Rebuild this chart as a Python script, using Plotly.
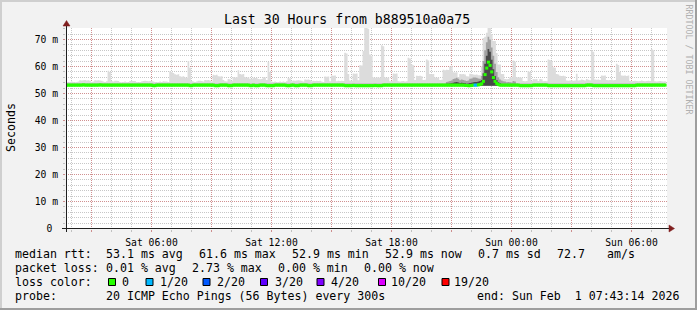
import plotly.graph_objects as go
from datetime import datetime, timedelta

# ---------------- data ----------------
START = datetime(2026, 1, 31, 1, 43, 14)
STEP_MIN = 5

median_ms = [
    53.1, 53.1, 53.1, 53.1, 53.1, 53.1, 53.1, 53.1, 53.1, 53.1, 53.2, 53.1, 53.1, 53.1, 53.1,
    53.1, 53.1, 53.1, 53.1, 53.1, 53.2, 53.1, 53.1, 53.1, 53.1, 53.1, 53.1, 53.1, 53.1, 53.1,
    53.1, 53.1, 53.1, 53.1, 53.1, 53.1, 53.1, 53.1, 53.1, 53.1, 53.1, 53.1, 53.1, 53.1, 53.1,
    53.1, 53.1, 53.1, 53.1, 53.1, 53.1, 53.1, 52.9, 52.9, 53.1, 53.1, 53.1, 53.1, 53.1, 53.1,
    53.1, 53.1, 53.1, 53.1, 53.1, 53.1, 53.1, 53.1, 53.1, 53.1, 53.1, 53.1, 53.1, 53.1, 52.9,
    52.9, 53.1, 53.1, 53.1, 53.1, 53.1, 53.1, 53.1, 53.1, 53.1, 53.1, 53.1, 53.1, 53.1, 52.9,
    52.9, 52.9, 53.1, 53.1, 53.1, 53.1, 53.1, 52.9, 52.9, 52.9, 53.1, 53.1, 53.1, 53.1, 53.1,
    53.1, 53.1, 53.1, 53.1, 53.1, 52.9, 52.9, 53.1, 52.9, 52.9, 52.9, 53.1, 53.1, 53.1, 53.1,
    52.9, 52.9, 52.9, 52.9, 52.9, 53.1, 53.1, 53.1, 53.1, 53.1, 53.1, 53.1, 52.9, 52.9, 52.9,
    53.1, 53.1, 52.9, 52.9, 52.9, 53.1, 53.1, 53.1, 53.1, 53.1, 52.9, 52.9, 52.9, 53.1, 53.1,
    53.1, 53.1, 53.1, 53.1, 53.1, 53.1, 53.1, 53.1, 53.1, 53.1, 53.1, 53.1, 53.1, 53.1, 53.1,
    53.1, 53.1, 52.9, 52.9, 52.9, 52.9, 52.9, 53.0, 52.9, 52.9, 52.9, 52.9, 52.9, 52.9, 52.9,
    52.9, 52.9, 52.9, 52.9, 52.9, 53.0, 52.9, 52.9, 52.9, 52.9, 53.1, 53.1, 53.1, 53.1, 53.1,
    53.1, 53.1, 53.1, 53.1, 53.1, 53.1, 53.1, 53.1, 53.1, 53.1, 53.1, 53.1, 53.1, 53.1, 53.1,
    53.1, 53.1, 53.1, 53.1, 53.1, 53.1, 53.1, 53.1, 53.1, 53.1, 53.1, 53.1, 53.1, 53.1, 53.1,
    53.1, 53.1, 53.1, 53.1, 53.1, 53.1, 53.1, 53.1, 53.1, 53.1, 53.1, 53.1, 53.1, 53.1, 53.0,
    53.0, 52.9, 52.9, 53.0, 53.1, 53.1, 53.1, 53.2, 53.3, 53.6, 54.5, 57.0, 59.4, 61.6, 60.4,
    58.0, 55.9, 54.5, 53.7, 53.3, 53.1, 53.1, 53.1, 53.1, 53.1, 53.1, 53.1, 53.1, 53.1, 53.1,
    53.1, 53.1, 52.9, 52.9, 52.9, 52.9, 52.9, 52.9, 52.9, 52.9, 53.1, 53.1, 53.1, 53.1, 53.1,
    53.1, 53.1, 53.1, 53.1, 52.9, 52.9, 52.9, 52.9, 52.9, 52.9, 52.9, 52.9, 52.9, 52.9, 52.9,
    52.9, 52.9, 52.9, 52.9, 52.9, 52.9, 52.9, 52.9, 52.9, 52.9, 52.9, 52.9, 53.1, 53.1, 53.1,
    53.1, 52.9, 52.9, 52.9, 52.9, 52.9, 52.9, 52.9, 52.9, 52.9, 52.9, 52.9, 52.9, 52.9, 52.9,
    52.9, 52.9, 52.9, 52.9, 52.9, 52.9, 52.9, 52.9, 52.9, 52.9, 52.9, 52.9, 53.1, 53.1, 53.1,
    53.1, 53.1, 53.1, 53.1, 53.1, 53.1, 53.1, 53.1, 53.1, 53.1, 53.1, 53.1, 53.1, 53.1, 53.1,
]

smoke_max_ms = [
    54.3, 54.2, 54.3, 54.4, 54.3, 54.2, 54.3, 54.4, 54.9, 54.8, 54.9, 55.0, 54.8, 54.9, 54.7,
    54.3, 54.4, 54.9, 54.8, 54.9, 54.8, 54.7, 54.4, 54.3, 54.5, 58.4, 58.0, 54.6, 54.4, 54.7,
    54.7, 54.6, 54.3, 54.2, 54.3, 54.4, 54.3, 54.2, 54.6, 54.7, 54.6, 54.6, 54.3, 54.2, 54.3,
    54.4, 54.6, 54.7, 54.6, 54.5, 54.6, 54.7, 54.4, 54.3, 54.2, 54.3, 54.4, 54.3, 54.5, 54.4,
    54.4, 54.3, 58.2, 58.0, 57.6, 57.1, 56.9, 57.1, 56.4, 56.2, 56.4, 55.9, 55.8, 62.0, 59.5,
    54.6, 54.4, 54.3, 54.4, 54.7, 54.7, 54.6, 54.4, 55.0, 54.9, 55.0, 54.8, 54.4, 56.9, 56.8,
    56.9, 56.4, 56.3, 56.4, 55.0, 54.5, 54.4, 55.4, 55.3, 54.6, 56.0, 55.9, 56.0, 58.6, 57.2,
    57.0, 57.2, 56.0, 55.8, 56.0, 55.5, 55.4, 55.8, 55.7, 55.8, 55.4, 55.3, 55.4, 56.0, 55.9,
    55.0, 61.7, 58.0, 54.4, 54.3, 54.4, 54.2, 54.3, 54.4, 54.3, 54.4, 54.3, 54.5, 55.7, 55.6,
    54.5, 54.8, 54.7, 54.8, 54.9, 54.8, 54.7, 54.4, 55.2, 55.1, 55.2, 55.0, 54.5, 54.7, 54.6,
    54.7, 54.6, 54.7, 54.4, 54.3, 56.3, 56.2, 56.3, 54.5, 56.7, 56.6, 56.7, 54.5, 54.7, 54.6,
    54.7, 54.6, 65.1, 64.8, 57.2, 54.8, 54.6, 57.4, 57.3, 57.4, 54.9, 60.5, 60.4, 65.7, 75.0,
    75.0, 74.0, 64.4, 64.0, 55.9, 55.8, 55.9, 56.0, 55.8, 67.9, 67.5, 55.9, 55.8, 55.9, 54.5,
    54.6, 57.4, 57.3, 57.4, 54.5, 54.4, 54.5, 54.6, 54.4, 54.5, 63.2, 63.0, 60.7, 60.5, 55.0,
    56.6, 56.5, 56.6, 56.4, 55.0, 55.1, 62.6, 62.2, 57.2, 57.1, 57.2, 55.9, 55.8, 55.9, 55.0,
    55.1, 58.8, 58.6, 58.8, 58.7, 60.0, 60.3, 57.9, 57.8, 57.9, 56.0, 57.2, 57.1, 57.2, 57.0,
    56.4, 56.3, 57.3, 57.2, 57.0, 56.9, 57.0, 56.8, 56.8, 60.0, 70.6, 71.0, 72.5, 75.0, 75.0,
    72.0, 69.4, 69.4, 65.0, 60.7, 60.7, 57.2, 57.2, 55.4, 55.3, 55.4, 56.0, 55.9, 62.2, 61.8,
    56.0, 55.9, 56.0, 55.8, 54.6, 54.5, 54.6, 58.3, 58.0, 54.6, 55.4, 55.3, 55.4, 54.6, 55.4,
    55.3, 54.5, 54.6, 54.5, 62.6, 62.4, 62.0, 59.7, 59.5, 57.2, 57.0, 56.6, 56.5, 56.6, 56.4,
    54.8, 54.7, 54.8, 54.9, 54.7, 54.8, 57.3, 54.8, 54.9, 55.2, 55.0, 54.8, 55.4, 55.1, 54.9,
    65.9, 65.5, 55.2, 55.1, 55.2, 55.0, 56.7, 56.6, 56.7, 55.0, 54.9, 55.0, 55.2, 54.9, 55.0,
    61.0, 60.6, 58.0, 56.7, 56.6, 56.7, 56.5, 56.7, 54.6, 54.5, 54.6, 54.7, 54.6, 54.5, 54.6,
    54.8, 54.6, 54.5, 54.6, 54.7, 54.6, 66.5, 66.0, 54.5, 54.4, 54.5, 54.6, 54.5, 54.4, 54.5,
]

SMOKE_FLOOR_MS = 52.9
SMOKE_CORE_TOP_MS = 53.9

PEAK_FIRST_STEP = 228
peak_mid_ms = [
    54.3, 54.4, 54.6, 54.8, 55.4, 55.6, 55.8, 55.5, 54.9, 55.2, 55.0, 54.8,
    54.6, 54.8, 55.5, 55.6, 55.9, 55.9, 55.8, 55.6, 55.5, 56.5,
    62.0, 66.0, 69.0, 71.0, 70.0, 67.0, 64.0, 61.0, 58.0, 56.0,
    55.2, 54.8, 54.5, 54.4, 54.2, 54.3, 54.2, 54.1, 54.6, 54.4,
]
peak_dark_ms = [
    53.6, 53.6, 53.7, 53.8, 54.0, 54.2, 54.3, 54.1, 53.9, 54.0, 53.9, 53.8,
    53.6, 53.7, 53.9, 54.0, 54.2, 54.3, 54.3, 54.4, 54.6, 55.0,
    57.5, 61.0, 64.0, 66.5, 65.5, 62.5, 59.0, 56.5, 55.0, 54.2,
    53.8, 53.5, 53.4, 53.3, 53.3, 53.3, 53.3, 53.3, 53.4, 53.3,
]

loss_count = [
    0, 0, 0, 0, 0, 0, 0, 0, 0, 0, 0, 0, 0, 0, 0, 0, 0, 0, 0, 0, 0, 0, 0, 0, 0, 0, 0, 0, 0, 0,
    0, 0, 0, 0, 0, 0, 0, 0, 0, 0, 0, 0, 0, 0, 0, 0, 0, 0, 0, 0, 0, 0, 0, 0, 0, 0, 0, 0, 0, 0,
    0, 0, 0, 0, 0, 0, 0, 0, 0, 0, 0, 0, 0, 0, 0, 0, 0, 0, 0, 0, 0, 0, 0, 0, 0, 0, 0, 0, 0, 0,
    0, 0, 0, 0, 0, 0, 0, 0, 0, 0, 0, 0, 0, 0, 0, 0, 0, 0, 0, 0, 0, 0, 0, 0, 0, 0, 0, 0, 0, 0,
    0, 0, 0, 0, 0, 0, 0, 0, 0, 0, 0, 0, 0, 0, 0, 0, 0, 0, 0, 0, 0, 0, 0, 0, 0, 0, 0, 0, 0, 0,
    0, 0, 0, 0, 0, 0, 0, 0, 0, 0, 0, 0, 0, 0, 0, 0, 0, 0, 0, 0, 0, 0, 0, 0, 0, 0, 0, 0, 0, 0,
    0, 0, 0, 0, 0, 0, 0, 0, 0, 0, 0, 0, 0, 0, 0, 0, 0, 0, 0, 0, 0, 0, 0, 0, 0, 0, 0, 0, 0, 0,
    0, 0, 0, 0, 0, 0, 0, 0, 0, 0, 0, 0, 0, 0, 0, 0, 0, 0, 0, 0, 0, 0, 0, 0, 0, 0, 0, 0, 0, 0,
    0, 0, 0, 0, 0, 1, 1, 0, 0, 0, 0, 0, 0, 0, 0, 0, 0, 0, 0, 0, 0, 0, 0, 0, 0, 0, 0, 0, 0, 0,
    0, 0, 0, 0, 0, 0, 0, 0, 0, 0, 0, 0, 0, 0, 0, 0, 0, 0, 0, 0, 0, 0, 0, 0, 0, 0, 0, 0, 0, 0,
    0, 0, 0, 0, 0, 0, 0, 0, 0, 0, 0, 0, 0, 0, 0, 0, 0, 0, 0, 0, 0, 0, 0, 0, 0, 0, 0, 0, 0, 0,
    0, 0, 0, 0, 0, 0, 0, 0, 0, 0, 0, 0, 0, 0, 0, 0, 0, 0, 0, 0, 0, 0, 0, 0, 0, 0, 0, 0, 0, 0,
]

loss_thresholds = [0, 1, 2, 3, 4, 10, 19]
loss_labels = ["0", "1/20", "2/20", "3/20", "4/20", "10/20", "19/20"]
loss_colors = ["#26ff00", "#00b8ff", "#0059ff", "#5e00ff", "#7e00ff", "#dd00ff", "#ff0000"]

y_tick_vals = [0, 10, 20, 30, 40, 50, 60, 70]
y_tick_text = ["0\u00a0", "10 m", "20 m", "30 m", "40 m", "50 m", "60 m", "70 m"]
Y_RANGE_MS = [-0.185, 74.26]

x_major_times = ["2026-01-31 03:00", "2026-01-31 06:00", "2026-01-31 09:00", "2026-01-31 12:00",
                 "2026-01-31 15:00", "2026-01-31 18:00", "2026-01-31 21:00", "2026-02-01 00:00",
                 "2026-02-01 03:00", "2026-02-01 06:00"]
x_major_text = ["", "Sat 06:00", "", "Sat 12:00", "", "Sat 18:00", "", "Sun 00:00", "", "Sun 06:00"]

title_text = "Last 30 Hours from b889510a0a75"
rtt_stats = ["53.1 ms avg", "61.6 ms max", "52.9 ms min", "52.9 ms now", "0.7 ms sd", "72.7", "am/s"]
loss_stats = ["0.01 % avg", "2.73 % max", "0.00 % min", "0.00 % now"]
probe_text = "20 ICMP Echo Pings (56 Bytes) every 300s"
end_text = "end: Sun Feb  1 07:43:14 2026"

# ---------------- styling / geometry ----------------
W, H = 697, 310
PL, PT, PW, PH = 66, 28, 601, 201
FONT = "DejaVu Sans Mono"
BACK = "#f2f2f2"
SHADE_A = "#cfcfcf"
SHADE_B = "#9e9e9e"
GRID = "rgba(143,143,143,0.5)"
MGRID = "rgba(222,79,79,0.45)"
ARROW = "#801f1f"
AXIS = "#1f1f1f"
X_PIXEL_ALIGN = timedelta(seconds=16)   # puts hour gridlines on pixel centres


def xp(px):
    return (px - PL) / PW


def yp(py):
    return (PT + PH - py) / PH


n = len(median_ms)
step = timedelta(minutes=STEP_MIN)
edges = [START + i * step for i in range(n + 1)]
centers = [START + (i + 0.5) * step for i in range(n)]
x_start = START + X_PIXEL_ALIGN
x_range = [x_start, x_start + timedelta(hours=PW / 20.0)]


def loss_color(c):
    col = loss_colors[0]
    for t, cc in zip(loss_thresholds, loss_colors):
        if c >= t:
            col = cc
    return col


fig = go.Figure()


def band(x, lo, hi, color):
    fig.add_trace(go.Scatter(x=x, y=lo, mode="lines", line=dict(width=0, shape="hv"),
                             hoverinfo="skip", showlegend=False))
    fig.add_trace(go.Scatter(x=x, y=hi, mode="lines", line=dict(width=0, shape="hv"),
                             fill="tonexty", fillcolor=color, hoverinfo="skip", showlegend=False))


floor_all = [SMOKE_FLOOR_MS] * (n + 1)
band(edges, floor_all, smoke_max_ms + [smoke_max_ms[-1]], "#dcdcdc")
band(edges, floor_all, [SMOKE_CORE_TOP_MS] * (n + 1), "#c6c6c6")

pk = len(peak_mid_ms)
pedges = edges[PEAK_FIRST_STEP:PEAK_FIRST_STEP + pk + 1]
band(pedges, [SMOKE_FLOOR_MS] * (pk + 1), peak_mid_ms + [peak_mid_ms[-1]], "#a2a2a2")
band(pedges, [SMOKE_FLOOR_MS] * (pk + 1), peak_dark_ms + [peak_dark_ms[-1]], "#484848")

fig.add_trace(go.Scatter(
    x=centers, y=median_ms, mode="markers",
    marker=dict(symbol="line-ew", size=2.2,
                line=dict(width=3, color=[loss_color(c) for c in loss_count])),
    hoverinfo="skip", showlegend=False))

grid_dash = "1px,1px"
fig.update_xaxes(
    type="date", range=x_range, showline=False, zeroline=False,
    tickmode="array", tickvals=x_major_times, ticktext=x_major_text,
    showgrid=True, gridcolor=MGRID, gridwidth=1, griddash=grid_dash,
    ticks="outside", ticklen=2, tickcolor=MGRID,
    tickfont=dict(family=FONT, size=9.7, color="#000000"),
    ticklabelstandoff=2,
    minor=dict(tick0="2026-01-31 00:00", dtick=3600000, showgrid=True, gridcolor=GRID,
               griddash=grid_dash, gridwidth=1, ticks="outside", ticklen=2, tickcolor=GRID),
    fixedrange=True,
)
fig.update_yaxes(
    range=Y_RANGE_MS, showline=False, zeroline=False,
    tickmode="array", tickvals=y_tick_vals, ticktext=y_tick_text,
    showgrid=True, gridcolor=MGRID, gridwidth=1, griddash=grid_dash,
    ticks="outside", ticklen=2, tickcolor=MGRID,
    tickfont=dict(family=FONT, size=9.7, color="#000000"),
    ticklabelstandoff=3,
    minor=dict(tick0=0, dtick=2, showgrid=True, gridcolor=GRID, griddash=grid_dash,
               gridwidth=1, ticks="outside", ticklen=2, tickcolor=GRID),
    fixedrange=True,
)

shapes = []
# frame shading
shapes.append(dict(type="rect", xref="paper", yref="paper", x0=xp(0), x1=xp(W), y0=yp(2), y1=yp(0),
                   fillcolor=SHADE_A, line=dict(width=0), layer="below"))
shapes.append(dict(type="rect", xref="paper", yref="paper", x0=xp(0), x1=xp(2), y0=yp(H), y1=yp(0),
                   fillcolor=SHADE_A, line=dict(width=0), layer="below"))
shapes.append(dict(type="rect", xref="paper", yref="paper", x0=xp(0), x1=xp(W), y0=yp(H), y1=yp(H - 2),
                   fillcolor=SHADE_B, line=dict(width=0), layer="below"))
shapes.append(dict(type="rect", xref="paper", yref="paper", x0=xp(W - 2), x1=xp(W), y0=yp(H), y1=yp(0),
                   fillcolor=SHADE_B, line=dict(width=0), layer="below"))
# axes
shapes.append(dict(type="line", xref="paper", yref="paper", x0=xp(62), x1=xp(671), y0=yp(228.5), y1=yp(228.5),
                   line=dict(color=AXIS, width=1)))
shapes.append(dict(type="line", xref="paper", yref="paper", x0=xp(66.5), x1=xp(66.5), y0=yp(232), y1=yp(24),
                   line=dict(color=AXIS, width=1)))
# arrows
shapes.append(dict(type="path", xref="paper", yref="paper",
                   path=f"M{xp(669)},{yp(225)} L{xp(674.5)},{yp(228.5)} L{xp(669)},{yp(232)} Z",
                   fillcolor=ARROW, line=dict(color=ARROW, width=0.5)))
shapes.append(dict(type="path", xref="paper", yref="paper",
                   path=f"M{xp(63)},{yp(26)} L{xp(66.5)},{yp(20.5)} L{xp(70)},{yp(26)} Z",
                   fillcolor=ARROW, line=dict(color=ARROW, width=0.5)))

# legend boxes
box_lefts = [108, 145.5, 202.5, 260, 316.5, 378, 441.5]
label_lefts = [122.3, 160, 217.3, 275, 331.3, 390.7, 454]
for bl, col in zip(box_lefts, loss_colors):
    shapes.append(dict(type="rect", xref="paper", yref="paper",
                       x0=xp(bl + 0.5), x1=xp(bl + 7.5), y0=yp(285.5), y1=yp(278.5),
                       fillcolor=col, line=dict(color="#000000", width=1)))

annotations = []


def ann(text, px, py, size=11.6, xanchor="left", angle=0, color="#000000"):
    annotations.append(dict(text=text.replace(" ", "\u00a0"), x=xp(px), y=yp(py),
                            xref="paper", yref="paper", xanchor=xanchor, yanchor="middle",
                            showarrow=False, textangle=angle, borderpad=0, borderwidth=0,
                            font=dict(family=FONT, size=size, color=color)))


ann(title_text, 347.3, 19.5, size=13.2, xanchor="center")
ann("Seconds", 11, 128, size=11.6, xanchor="center", angle=-90)
ann("RRDTOOL / TOBI OETIKER", 688.5, 59, size=8.3, xanchor="center", angle=90, color="#b0b0b0")

L1, L2, L3, L4 = 254, 268.3, 282.3, 296
ann("median rtt:", 15.3, L1)
for txt, px in zip(rtt_stats, [106.3, 199, 292.3, 385, 478.5, 557.3, 606.5]):
    ann(txt, px, L1)
ann("packet loss:", 15.3, L2)
for txt, px in zip(loss_stats, [106.3, 192.3, 278.3, 364]):
    ann(txt, px, L2)
ann("loss color:", 15.3, L3)
for txt, px in zip(loss_labels, label_lefts):
    ann(txt, px, L3)
ann("probe:", 15.3, L4)
ann(probe_text, 106.3, L4)
ann(end_text, 477.3, L4)

fig.update_layout(
    width=W, height=H, autosize=False,
    margin=dict(l=PL, r=W - PL - PW, t=PT, b=H - PT - PH, pad=0),
    paper_bgcolor=BACK, plot_bgcolor="#ffffff",
    showlegend=False, shapes=shapes, annotations=annotations,
    font=dict(family=FONT, color="#000000"),
)

fig.write_html("out.html", config={"displayModeBar": False, "staticPlot": True})
